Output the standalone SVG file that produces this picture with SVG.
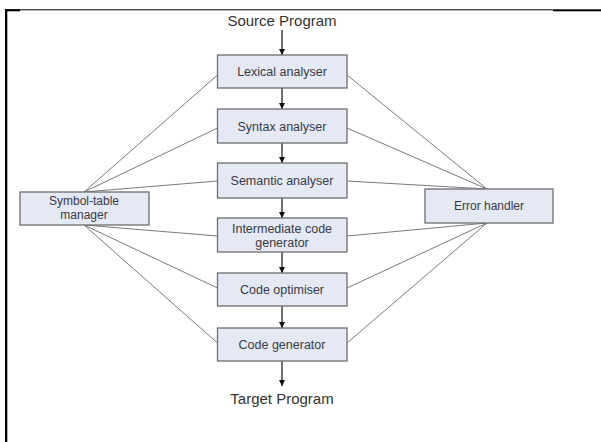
<svg xmlns="http://www.w3.org/2000/svg" width="601" height="442" viewBox="0 0 601 442">
  <style>
    .box { fill: #e4e9f3; stroke: #6e6e6e; stroke-width: 1.3; }
    .lbl { font-family: "Liberation Sans", Arial, sans-serif; font-size: 12.5px; fill: #3a3a46; text-anchor: middle; }
    .side { font-size: 12px; }
    .io { font-family: "Liberation Sans", Arial, sans-serif; font-size: 15px; fill: #333; text-anchor: middle; }
    .link { stroke: #7a7a7a; stroke-width: 1; fill: none; }
    .flow { stroke: #111; stroke-width: 1.2; fill: none; marker-end: url(#head); }
  </style>
  <defs>
    <marker id="head" viewBox="0 0 8 8" refX="8" refY="4" markerWidth="6" markerHeight="6" markerUnits="userSpaceOnUse" orient="auto">
      <path d="M0,0 L8,4 L0,8 z" fill="#111"/>
    </marker>
  </defs>

  <rect width="601" height="442" fill="#ffffff"/>

  <!-- page frame -->
  <g id="frame" fill="#000">
    <rect x="5" y="9.3" width="548" height="1"/>
    <rect x="5" y="9.3" width="15" height="2"/>
    <rect x="553" y="9.3" width="48" height="2"/>
    <rect x="5" y="9.3" width="2.3" height="433"/>
  </g>

  <!-- connectors -->
  <g id="connectors">
    <!-- symbol-table links -->
    <line class="link" x1="84" y1="192" x2="217.5" y2="75"/>
    <line class="link" x1="84" y1="192" x2="217.5" y2="128"/>
    <line class="link" x1="84" y1="192" x2="217.5" y2="181"/>
    <line class="link" x1="84" y1="225" x2="217.5" y2="236"/>
    <line class="link" x1="84" y1="225" x2="217.5" y2="288"/>
    <line class="link" x1="84" y1="225" x2="217.5" y2="343"/>
    <!-- error handler links -->
    <line class="link" x1="347" y1="75" x2="487" y2="189"/>
    <line class="link" x1="347" y1="128" x2="487" y2="189"/>
    <line class="link" x1="347" y1="181" x2="487" y2="189"/>
    <line class="link" x1="347" y1="236" x2="487" y2="223"/>
    <line class="link" x1="347" y1="288" x2="487" y2="223"/>
    <line class="link" x1="347" y1="343" x2="487" y2="223"/>
    <!-- phase flow -->
    <line class="flow" x1="282" y1="30" x2="282" y2="55"/>
    <line class="flow" x1="282" y1="88" x2="282" y2="109"/>
    <line class="flow" x1="282" y1="143" x2="282" y2="163"/>
    <line class="flow" x1="282" y1="198" x2="282" y2="218"/>
    <line class="flow" x1="282" y1="252" x2="282" y2="273"/>
    <line class="flow" x1="282" y1="306" x2="282" y2="328"/>
    <line class="flow" x1="282" y1="361" x2="282" y2="386"/>
  </g>

  <g id="source"><text class="io" x="282" y="25.5">Source Program</text></g>

  <g id="lexical">
    <rect class="box" x="217.5" y="55" width="129.5" height="33"/>
    <text class="lbl" x="282" y="76">Lexical analyser</text>
  </g>
  <g id="syntax">
    <rect class="box" x="217.5" y="109" width="129.5" height="34"/>
    <text class="lbl" x="282" y="130.5">Syntax analyser</text>
  </g>
  <g id="semantic">
    <rect class="box" x="217.5" y="163" width="129.5" height="35"/>
    <text class="lbl" x="282" y="185">Semantic analyser</text>
  </g>
  <g id="intermediate">
    <rect class="box" x="217.5" y="218" width="129.5" height="34"/>
    <text class="lbl" x="282" y="232.5">Intermediate code</text>
    <text class="lbl" x="282" y="246.5">generator</text>
  </g>
  <g id="optimiser">
    <rect class="box" x="217.5" y="273" width="129.5" height="33"/>
    <text class="lbl" x="282" y="293.5">Code optimiser</text>
  </g>
  <g id="generator">
    <rect class="box" x="217.5" y="328" width="129.5" height="33"/>
    <text class="lbl" x="282" y="348.5">Code generator</text>
  </g>

  <g id="symbol-table">
    <rect class="box" x="20" y="192" width="129" height="33"/>
    <text class="lbl side" x="84" y="205">Symbol-table</text>
    <text class="lbl side" x="84" y="219">manager</text>
  </g>
  <g id="error-handler">
    <rect class="box" x="425" y="189" width="128" height="34"/>
    <text class="lbl side" x="489" y="210">Error handler</text>
  </g>

  <g id="target"><text class="io" x="282" y="403.5">Target Program</text></g>
</svg>
